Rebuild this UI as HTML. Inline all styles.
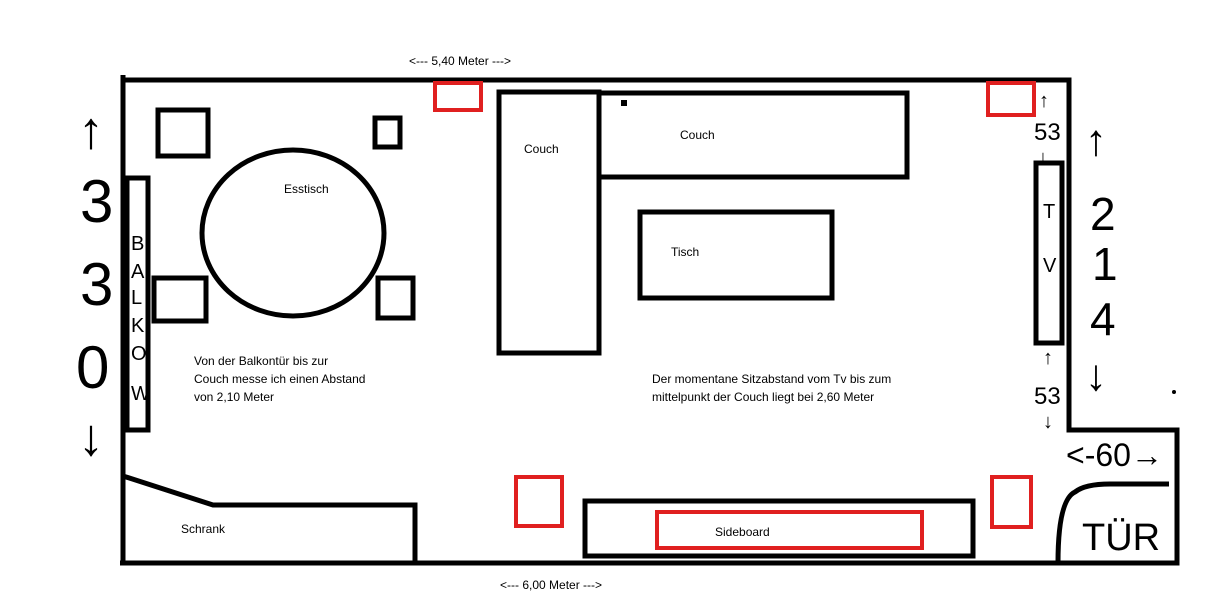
<!DOCTYPE html>
<html><head><meta charset="utf-8"><style>
html,body{margin:0;padding:0;background:#fff;}
svg{display:block;}
text{font-family:"Liberation Sans",sans-serif;}
</style></head><body>
<svg width="1218" height="608" viewBox="0 0 1218 608">
<rect width="1218" height="608" fill="#fff"/>
<g fill="none" stroke="#000" stroke-width="5">
<path d="M123 75 V565 M120 563 H1177 V430 H1069 V80 H123"/>
<rect x="158" y="110" width="50" height="46"/>
<rect x="375" y="118" width="25" height="29"/>
<rect x="154" y="278" width="52" height="43"/>
<rect x="378" y="278" width="35" height="40"/>
<ellipse cx="293" cy="233" rx="91" ry="83"/>
<rect x="127" y="178" width="21" height="252"/>
<path d="M123 476 L213 505 H415 V565"/>
<rect x="499" y="92" width="100" height="261"/>
<rect x="599" y="93" width="308" height="84"/>
<rect x="640" y="212" width="192" height="86"/>
<rect x="1036" y="163" width="26" height="180"/>
<rect x="585" y="501" width="388" height="55"/>
<path d="M1058 563 Q1058 500 1075 492 Q1085 484 1110 484 H1169"/>
</g>
<rect x="621" y="100" width="6" height="6" fill="#000"/>
<circle cx="1174" cy="392" r="2" fill="#000"/>
<g fill="none" stroke="#e02020" stroke-width="4">
<rect x="435" y="83" width="46" height="27"/>
<rect x="988" y="83" width="46" height="32"/>
<rect x="516" y="477" width="46" height="49"/>
<rect x="992" y="477" width="39" height="50"/>
<rect x="657" y="512" width="265" height="36"/>
</g>
<g font-size="12" fill="#000">
<text x="409" y="65">&lt;--- 5,40 Meter ---&gt;</text>
<text x="500" y="589">&lt;--- 6,00 Meter ---&gt;</text>
<text x="284" y="193">Esstisch</text>
<text x="524" y="153">Couch</text>
<text x="680" y="139">Couch</text>
<text x="671" y="256">Tisch</text>
<text x="181" y="533">Schrank</text>
<text x="715" y="536">Sideboard</text>
<text x="194" y="365">Von der Balkontür bis zur</text>
<text x="194" y="383">Couch messe ich einen Abstand</text>
<text x="194" y="401">von 2,10 Meter</text>
<text x="652" y="383">Der momentane Sitzabstand vom Tv bis zum</text>
<text x="652" y="401">mittelpunkt der Couch liegt bei 2,60 Meter</text>
</g>
<g fill="#000" font-size="20">
<text x="131" y="250">B</text><text x="131" y="278">A</text><text x="131" y="304">L</text>
<text x="131" y="332">K</text><text x="131" y="360">O</text><text x="131" y="400">W</text>
<text x="1043" y="218">T</text><text x="1043" y="272">V</text>
</g>
<g fill="#000" font-size="60">
<text x="78" y="148" font-size="52">↑</text>
<text x="80" y="222">3</text>
<text x="80" y="305">3</text>
<text x="76" y="388">0</text>
<text x="78" y="455" font-size="52">↓</text>
<text x="1085" y="155" font-size="44">↑</text>
<text x="1090" y="230" font-size="46">2</text>
<text x="1092" y="280" font-size="46">1</text>
<text x="1090" y="335" font-size="46">4</text>
<text x="1085" y="390" font-size="44">↓</text>
<text x="1066" y="466" font-size="32">&lt;-60→</text>
<text x="1082" y="550" font-size="38">TÜR</text>
</g>
<g fill="#000" font-size="24">
<text x="1039" y="107" font-size="20">↑</text>
<text x="1034" y="140">53</text>
<text x="1038" y="164" font-size="20">↓</text>
<text x="1043" y="364" font-size="20">↑</text>
<text x="1034" y="404">53</text>
<text x="1043" y="428" font-size="20">↓</text>
</g>
</svg>
</body></html>
